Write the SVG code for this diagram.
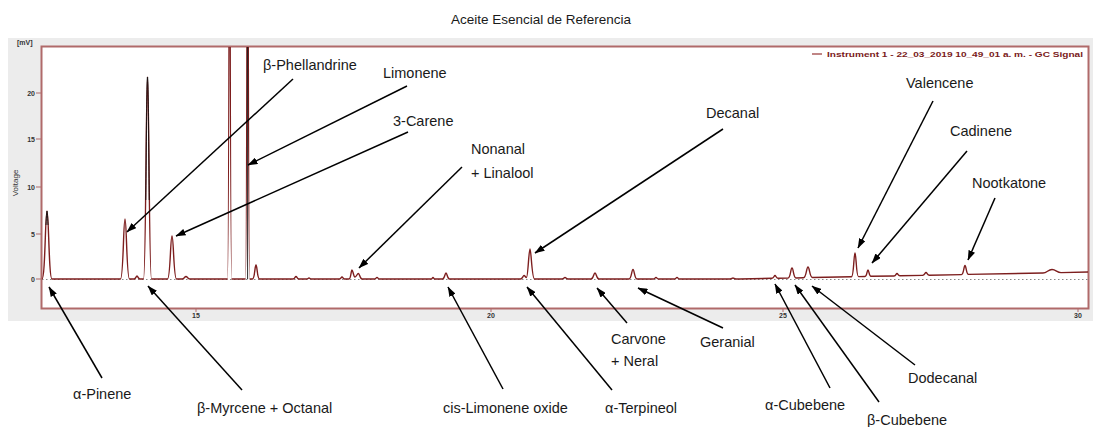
<svg xmlns="http://www.w3.org/2000/svg" width="1093" height="427" viewBox="0 0 1093 427">
<style>
.lbl{font-family:"Liberation Sans",Arial,sans-serif;font-size:14.5px;fill:#1a1a1a}
.tick{font-family:"Liberation Sans",Arial,sans-serif;font-size:7px;font-weight:bold;fill:#333}
.conn line{stroke:#000;stroke-width:1.5;marker-end:url(#ah)}
</style>
<defs>
<marker id="ah" viewBox="0 0 10 7" refX="9.5" refY="3.5" markerWidth="10" markerHeight="7" markerUnits="userSpaceOnUse" orient="auto">
<path d="M0,0 L10,3.5 L0,7 z" fill="#000"/>
</marker>
<clipPath id="plot"><rect x="42" y="47" width="1046" height="261"/></clipPath>
</defs>
<rect width="1093" height="427" fill="#fff"/>
<g id="title"><text class="lbl" x="541" y="24" text-anchor="middle" style="font-size:13.5px">Aceite Esencial de Referencia</text></g>
<g id="chart">
<rect x="8" y="38" width="1085" height="283" fill="#ececec"/>
<rect x="41.5" y="46.5" width="1047" height="262" fill="#fff" stroke="#b06a6a" stroke-width="2"/>
<text class="tick" x="17" y="45">[mV]</text>
<g class="tick" text-anchor="end">
<text x="35" y="282">0</text><text x="35" y="237">5</text><text x="35" y="190">10</text><text x="35" y="142">15</text><text x="35" y="96">20</text>
</g>
<g stroke="#b06a6a" stroke-width="1"><line x1="36" y1="279" x2="41" y2="279"/><line x1="36" y1="234" x2="41" y2="234"/><line x1="36" y1="187" x2="41" y2="187"/><line x1="36" y1="139" x2="41" y2="139"/><line x1="36" y1="93" x2="41" y2="93"/>
<line x1="196" y1="309" x2="196" y2="312"/><line x1="491" y1="309" x2="491" y2="312"/><line x1="783" y1="309" x2="783" y2="312"/><line x1="1078" y1="309" x2="1078" y2="312"/></g>
<g class="tick" text-anchor="middle"><text x="196" y="318">15</text><text x="491" y="318">20</text><text x="783" y="318">25</text><text x="1078" y="318">30</text></g>
<text class="tick" x="0" y="0" transform="translate(18,183) rotate(-90)" text-anchor="middle" style="font-weight:normal;font-size:8px">Voltage</text>
<line x1="812" y1="54" x2="822" y2="54" stroke="#c08585" stroke-width="2"/>
<text x="827" y="57" textLength="256" lengthAdjust="spacingAndGlyphs" style="font-family:'Liberation Sans',Arial,sans-serif;font-size:8px;font-weight:bold;fill:#7a1a1a">Instrument 1 - 22_03_2019 10_49_01 a. m. - GC Signal</text>
<line x1="42" y1="279.5" x2="1088" y2="279.5" stroke="#888" stroke-width="1" stroke-dasharray="1.5 2.5"/>
<g clip-path="url(#plot)" fill="none" stroke-linejoin="round">
<path stroke="#7d1e1e" stroke-width="1.4" d="M42 279 C45.25 279 45.25 211 47 211 C48.75 211 48.75 279 52 279
L120.5 279 C123.4 279 123.4 219 125 219 C126.6 219 126.6 279 129.5 279
L134 279 C136 279 136 276 137 276 C138 276 138 279 140 279
L143.5 279 C146 279 146 77 147.5 77 C149 77 149 279 151.5 279
L167.5 279 C170.4 279 170.4 236 172 236 C173.6 236 173.6 279 176.5 279
L182 279 C184.5 279 184.5 276.5 186 276.5 C187.5 276.5 187.5 279 190 279
L227.5 279 C229 279 229.5 -300 229.6 -300 C229.7 -300 230.2 279 231.7 279
L245.5 279 C247 279 247.3 -300 247.6 -300 C247.9 -300 248.2 279 249.7 279
L252.5 279 C254.8 279 254.8 265 256 265 C257.2 265 257.2 279 259.5 279
L293 279 C295 279 295 276.5 296 276.5 C297 276.5 297 279 299 279
L306.5 279 C308 279 308 278 309 278 C310 278 310 279 311.5 279
L339.5 279 C341 279 341 277 342 277 C343 277 343 279 344.5 279
L349 279 C351 279 351 270 352 270 C353 270 353.5 277 355 277 C356.5 277 357 273.5 358.5 273.5 C359.5 273.5 360 279 362 279
L374.5 279 C376 279 376 277.5 377 277.5 C378 277.5 378 279 379.5 279
L431 279 C432.3 279 432.3 277.5 433 277.5 C433.7 277.5 433.7 279 435 279
L442.5 279 C444.8 279 444.8 273 446 273 C447.2 273 447.2 279 449.5 279
L520.5 279 C522.5 279 523 275.5 524 275.5 C525 275.5 525.5 277.5 526.5 277.5 C528 277.5 528.8 249 530 249 C531.2 249 531.8 279 534.5 279
L562 279 C564 279 564 277.5 565 277.5 C566 277.5 566 279 568 279
L591 279 C593.6 279 593.6 273 595 273 C596.4 273 596.4 279 599 279
L629 279 C631.6 279 631.6 269.5 633 269.5 C634.4 269.5 634.4 279 637 279
L653.5 279 C655 279 655 277.5 656 277.5 C657 277.5 657 279 658.5 279
L674.5 279 C676 279 676 277.5 677 277.5 C678 277.5 678 279 679.5 279
L730 279 C732 279 732 278 733 278 C734 278 734 279 736 279
L740 279 L772 278.3 C774 278.3 774 275.5 775 275.5 C776 275.5 776 278.3 778 278.2
L788 278.1 C790.6 278.1 790.6 268 792 268 C793.4 268 793.4 278 796 278
L803.5 277.7 C806.4 277.7 806.4 267 808 267 C809.6 267 809.6 277.5 812.5 277.5
L851.5 276.8 C853.8 276.8 853.8 253 855 253 C856.2 253 856.2 276.7 858.5 276.6
L865 276.5 C867 276.5 867 270 868 270 C869 270 869 276.4 871 276.3
L894 276 C896 276 896 273.5 897 273.5 C898 273.5 898 275.9 900 275.8
L922.5 275.4 C924.8 275.4 924.8 272.5 926 272.5 C927.2 272.5 927.2 275.2 929.5 275.2
L961.5 274.6 C963.8 274.6 963.8 265.5 965 265.5 C966.2 265.5 966.2 274.5 968.5 274.4
L1043 273 C1047 273 1048 269.5 1052 269.5 C1056 269.5 1057 272.6 1061 272.6 L1089 272"/>
<path stroke="#111" stroke-width="0.9" d="M145.8 200 C146.5 120 146.8 77 147.5 77 C148.2 77 148.5 120 149.2 200 M247.6 279 L247.6 40 M46 225 C46.5 214 46.7 211 47 211 C47.3 211 47.5 214 48 225"/>
</g>
</g>
<g id="connectors" class="conn">
<line x1="293" y1="79" x2="127" y2="232"/>
<line x1="407" y1="86" x2="248" y2="165"/>
<line x1="408" y1="132" x2="176" y2="236"/>
<line x1="462" y1="167" x2="359" y2="268"/>
<line x1="723" y1="129" x2="535" y2="253"/>
<line x1="933" y1="101" x2="858" y2="248"/>
<line x1="967" y1="151" x2="872" y2="263"/>
<line x1="995" y1="198" x2="968" y2="260"/>
<line x1="102" y1="378" x2="49" y2="287"/>
<line x1="242" y1="390" x2="148" y2="286"/>
<line x1="503" y1="389" x2="448" y2="287"/>
<line x1="612" y1="390" x2="527" y2="287"/>
<line x1="627" y1="323" x2="597" y2="288"/>
<line x1="723" y1="328" x2="638" y2="288"/>
<line x1="830" y1="388" x2="775" y2="284"/>
<line x1="879" y1="402" x2="795" y2="285"/>
<line x1="915" y1="365" x2="812" y2="286"/>
</g>
<g id="n-phellandrine"><text class="lbl" x="263" y="70">β-Phellandrine</text></g>
<g id="n-limonene"><text class="lbl" x="383" y="78">Limonene</text></g>
<g id="n-carene"><text class="lbl" x="393" y="126">3-Carene</text></g>
<g id="n-nonanal"><text class="lbl" x="471" y="154">Nonanal</text><text class="lbl" x="471" y="178">+ Linalool</text></g>
<g id="n-decanal"><text class="lbl" x="706" y="118">Decanal</text></g>
<g id="n-valencene"><text class="lbl" x="906" y="88">Valencene</text></g>
<g id="n-cadinene"><text class="lbl" x="950" y="136">Cadinene</text></g>
<g id="n-nootkatone"><text class="lbl" x="972" y="188">Nootkatone</text></g>
<g id="n-pinene"><text class="lbl" x="73" y="399">α-Pinene</text></g>
<g id="n-myrcene"><text class="lbl" x="197" y="413">β-Myrcene + Octanal</text></g>
<g id="n-limoxide"><text class="lbl" x="443" y="413">cis-Limonene oxide</text></g>
<g id="n-terpineol"><text class="lbl" x="605" y="413">α-Terpineol</text></g>
<g id="n-carvone"><text class="lbl" x="611" y="344">Carvone</text><text class="lbl" x="611" y="366">+ Neral</text></g>
<g id="n-geranial"><text class="lbl" x="700" y="347">Geranial</text></g>
<g id="n-acubebene"><text class="lbl" x="765" y="410">α-Cubebene</text></g>
<g id="n-bcubebene"><text class="lbl" x="867" y="425">β-Cubebene</text></g>
<g id="n-dodecanal"><text class="lbl" x="908" y="383">Dodecanal</text></g>
</svg>
